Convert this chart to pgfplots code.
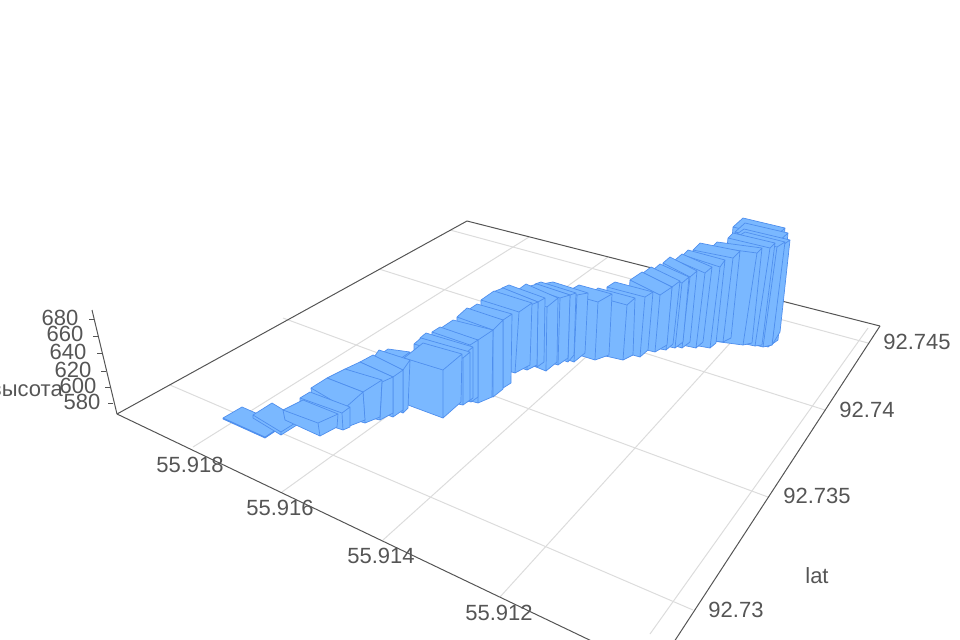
\documentclass[border=0pt]{standalone}
\usepackage{pgfplots}
\pgfplotsset{compat=1.18}
\usepackage{fontspec}
\setmainfont{Liberation Sans}
\definecolor{barfill}{HTML}{7AB8FF}
\definecolor{baredge}{HTML}{4F8FEE}
\definecolor{axline}{HTML}{555555}
\definecolor{gridc}{HTML}{DCDCDC}
\definecolor{txt}{HTML}{555555}
\newcommand\B[7]{\addplot[fill=barfill,draw=baredge,line width=0.7bp,line join=round,mark=none] coordinates {#1#2#3#7#6#5#1#4#3#4#6#4#1};}
\newcommand\G[2]{\addplot[gridc,line width=1bp,mark=none] coordinates {#1#2};}
\newcommand\A[2]{\addplot[axline,line width=1bp,mark=none] coordinates {#1#2};}
\newcommand\T[3]{\node[text=txt,anchor=center,inner sep=0pt,font=\fontsize{22bp}{24bp}\selectfont] at (axis cs:#1,#2) {#3};}
\begin{document}
\begin{tikzpicture}
\clip (0,0) rectangle (960bp,640bp);
\begin{axis}[at={(0,0)},anchor=south west,scale only axis,width=960bp,height=640bp,
  xmin=0,xmax=960,ymin=0,ymax=640,y dir=reverse,hide axis,clip=true]
% floor grid: lat lines
\G{(450,230)}{(868,343)}
\G{(379,269)}{(825,410)}
\G{(283,318)}{(768,497)}
\G{(170,385)}{(693,610)}
% floor grid: lon lines
\G{(193,447)}{(529,237)}
\G{(282,492)}{(608,257)}
\G{(383,540)}{(678,274)}
\G{(500,597)}{(771,298)}
\G{(868,328)}{(650,634)}
% axes
\A{(117,414)}{(467,221)}
\A{(467,221)}{(880,326)}
\A{(117,414)}{(600,645)}
\A{(880,326)}{(672,645)}
\A{(92,310)}{(117,414)}
\A{(89,319)}{(94,319)}
\A{(93,336)}{(98,336)}
\A{(97,353)}{(102,353)}
\A{(101,371)}{(106,371)}
\A{(105,387)}{(110,387)}
\A{(108,403)}{(113,403)}
% bars, far to near
\B{(733,227)}{(743,218)}{(785,228)}{(775,237)}{(725,330)}{(765,345)}{(775,338)}
\B{(735,232)}{(745,223)}{(788,233)}{(778,242)}{(727,332)}{(768,347)}{(778,340)}
\B{(737,234)}{(744,229)}{(790,240)}{(783,245)}{(727,335)}{(772,345)}{(780,332)}
\B{(737,237)}{(745,232)}{(785,242)}{(777,247)}{(727,338)}{(763,347)}{(772,345)}
\B{(728,238)}{(733,233)}{(775,243)}{(770,248)}{(718,338)}{(755,346)}{(762,345)}
\B{(712,247)}{(717,242)}{(762,248)}{(757,253)}{(705,340)}{(743,345)}{(752,343)}
\B{(693,250)}{(700,243)}{(740,251)}{(733,258)}{(686,338)}{(723,342)}{(731,338)}
\B{(683,255)}{(688,250)}{(725,260)}{(720,267)}{(676,342)}{(710,348)}{(716,343)}
\B{(675,260)}{(682,254)}{(712,267)}{(705,273)}{(668,342)}{(696,348)}{(703,342)}
\B{(663,263)}{(670,257)}{(697,271)}{(690,277)}{(657,340)}{(682,348)}{(690,342)}
\B{(653,270)}{(660,264)}{(689,277)}{(682,283)}{(648,342)}{(675,348)}{(683,342)}
\B{(643,273)}{(651,267)}{(680,281)}{(672,287)}{(638,345)}{(666,350)}{(673,344)}
\B{(630,280)}{(642,272)}{(672,287)}{(660,295)}{(626,345)}{(655,352)}{(667,345)}
\B{(607,287)}{(615,282)}{(653,292)}{(645,297)}{(604,347)}{(640,357)}{(648,350)}
\B{(590,295)}{(598,288)}{(635,298)}{(627,305)}{(588,352)}{(623,360)}{(633,355)}
\B{(565,293)}{(579,285)}{(612,294)}{(598,302)}{(563,350)}{(595,360)}{(609,355)}
\B{(542,284)}{(553,282)}{(588,293)}{(577,295)}{(541,350)}{(574,362)}{(585,353)}
\B{(535,284)}{(541,282)}{(576,293)}{(570,295)}{(534,350)}{(568,362)}{(574,355)}
\B{(527,287)}{(537,284)}{(570,295)}{(560,298)}{(526,355)}{(558,365)}{(568,358)}
\B{(515,292)}{(526,284)}{(558,298)}{(547,307)}{(514,358)}{(546,371)}{(557,362)}
\B{(502,288)}{(509,285)}{(545,298)}{(538,302)}{(501,355)}{(537,367)}{(544,362)}
\B{(493,292)}{(503,288)}{(538,302)}{(528,306)}{(492,358)}{(527,370)}{(537,365)}
\B{(481,300)}{(494,291)}{(532,303)}{(519,312)}{(480,362)}{(515,373)}{(530,365)}
\B{(468,310)}{(477,304)}{(512,314)}{(503,320)}{(467,378)}{(503,388)}{(511,383)}
\B{(457,317)}{(467,308)}{(503,320)}{(493,330)}{(456,385)}{(493,397)}{(503,389)}
\B{(438,330)}{(453,320)}{(493,330)}{(478,340)}{(437,392)}{(478,403)}{(492,397)}
\B{(432,332)}{(440,327)}{(478,340)}{(470,345)}{(431,392)}{(471,402)}{(478,397)}
\B{(420,338)}{(426,333)}{(473,347)}{(467,352)}{(420,390)}{(467,402)}{(473,398)}
\B{(414,344)}{(421,338)}{(470,352)}{(463,358)}{(414,395)}{(463,405)}{(470,400)}
\B{(378,356)}{(388,349)}{(410,352)}{(400,359)}{(378,400)}{(400,405)}{(408,400)}
\B{(404,358)}{(423,343)}{(462,354)}{(443,370)}{(408,405)}{(443,418)}{(461,402)}
\B{(372,360)}{(379,350)}{(410,360)}{(403,370)}{(374,400)}{(403,413)}{(408,408)}
\B{(360,362)}{(373,355)}{(403,370)}{(393,377)}{(361,405)}{(393,417)}{(403,410)}
\B{(345,369)}{(360,362)}{(393,377)}{(382,382)}{(347,412)}{(380,420)}{(393,413)}
\B{(327,378)}{(345,369)}{(382,380)}{(363,392)}{(329,412)}{(365,423)}{(380,417)}
\B{(311,388)}{(327,378)}{(363,392)}{(345,408)}{(313,415)}{(347,427)}{(365,420)}
\B{(300,398)}{(310,392)}{(350,407)}{(342,413)}{(300,416)}{(343,430)}{(350,427)}
\B{(223,418)}{(242,407)}{(283,425)}{(265,437)}{(223,419)}{(265,438)}{(283,426)}
\B{(253,415)}{(272,403)}{(300,420)}{(281,432)}{(253,418)}{(281,435)}{(300,423)}
\B{(283,410)}{(303,400)}{(338,414)}{(318,423)}{(285,420)}{(320,436)}{(337,427)}
% labels
\T{190}{465}{55.918}
\T{280}{508}{55.916}
\T{381}{556}{55.914}
\T{499}{613}{55.912}
\T{917}{342}{92.745}
\T{867}{410}{92.74}
\T{817}{496}{92.735}
\T{736}{610}{92.73}
\T{817}{576}{lat}
\T{60}{318}{680}
\T{65}{334}{660}
\T{68}{352}{640}
\T{73}{370}{620}
\T{78}{386}{600}
\T{82}{402}{580}
\node[text=txt,anchor=east,inner sep=0pt,font=\fontsize{22bp}{24bp}\selectfont] at (axis cs:63,391) {высота};
\end{axis}
\end{tikzpicture}
\end{document}
